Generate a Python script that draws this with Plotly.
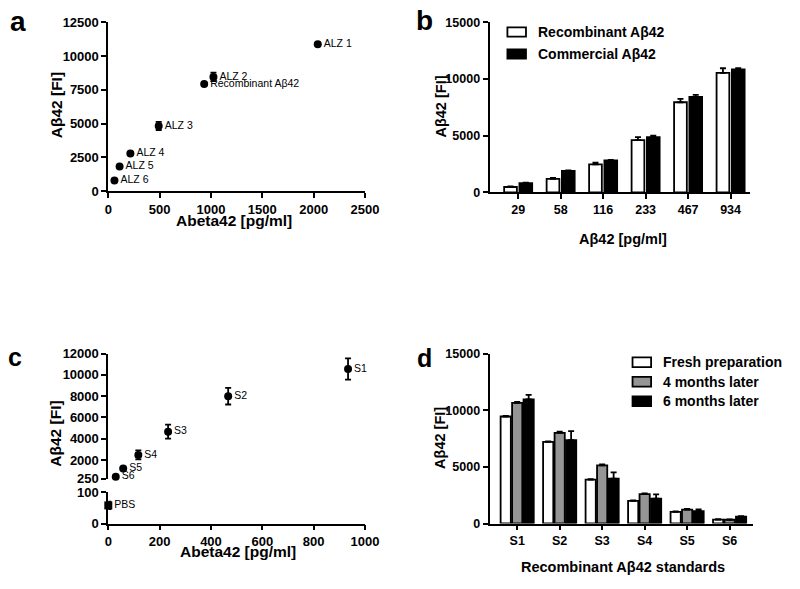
import plotly.graph_objects as go

# ---- data ----
# panel a: patient samples vs ELISA
alz_names = ["ALZ 1", "ALZ 2", "Recombinant Aβ42", "ALZ 3", "ALZ 4", "ALZ 5", "ALZ 6"]
alz_elisa = [2040, 1024, 934, 491, 215, 110, 60]
alz_fi = [10870, 8460, 7930, 4830, 2790, 1830, 800]
alz_err = [80, 320, 60, 300, 60, 50, 50]

# panel b: recombinant vs commercial
conc_labels = ["29", "58", "116", "233", "467", "934"]
recomb_fi = [480, 1200, 2480, 4620, 7950, 10550]
recomb_err = [60, 80, 150, 250, 300, 400]
commercial_fi = [830, 1900, 2820, 4880, 8430, 10850]
commercial_err = [30, 40, 40, 120, 180, 100]

# panel c: standards
std_names = ["S1", "S2", "S3", "S4", "S5", "S6"]
std_conc = [934, 467, 233, 117, 58, 29]
std_fi = [10550, 8000, 4670, 2480, 1200, 430]
std_err = [1000, 780, 650, 420, 60, 60]
pbs_fi = [58]
pbs_err = [12]

# panel d: stability
fresh_fi = [9450, 7200, 3880, 2000, 1020, 350]
fresh_err = [60, 60, 40, 40, 40, 30]
m4_fi = [10650, 8000, 5130, 2600, 1230, 330]
m4_err = [80, 120, 100, 60, 60, 30]
m6_fi = [10950, 7350, 3950, 2200, 1080, 600]
m6_err = [400, 810, 570, 370, 170, 60]

# tick values
a_xticks = [0, 500, 1000, 1500, 2000, 2500]
a_yticks = [0, 2500, 5000, 7500, 10000, 12500]
bar_yticks = [0, 5000, 10000, 15000]
c_xticks = [0, 200, 400, 600, 800, 1000]
c_yticks_top = [250, 2000, 4000, 6000, 8000, 10000, 12000]
c_yticks_low = [0, 100]

W, H = 800, 589
FONT = "Arial, Liberation Sans, sans-serif"
GREY = "#959595"


def px(x):
    return x / W


def py(y):
    return 1 - y / H


def bold(vals):
    return ["<b>%s</b>" % v for v in vals]


def axis(domain, size=13, tickvals=None, **kw):
    d = dict(
        domain=domain, showline=True, linecolor="black", linewidth=1.8,
        ticks="outside", ticklen=5, tickwidth=1.8, tickcolor="black",
        showgrid=False, zeroline=False,
        tickfont=dict(family=FONT, size=size, color="black"),
    )
    if tickvals is not None:
        d.update(tickmode="array", tickvals=tickvals, ticktext=bold(tickvals))
    d.update(kw)
    return d


def err(vals, up_only=False):
    e = dict(type="data", array=vals, color="black", thickness=1.8, width=3)
    if up_only:
        e.update(symmetric=False, arrayminus=[0] * len(vals))
    return e


fig = go.Figure()

# panel a
fig.add_trace(go.Scatter(
    x=alz_elisa, y=alz_fi, text=alz_names, mode="markers+text",
    textposition="middle right", textfont=dict(family=FONT, size=10.5, color="black"),
    marker=dict(color="black", size=8), error_y=err(alz_err),
    cliponaxis=False, xaxis="x", yaxis="y"))

# panel b
fig.add_trace(go.Bar(
    x=conc_labels, y=recomb_fi, width=0.3, offset=-0.33,
    marker=dict(color="white", line=dict(color="black", width=1.8)),
    error_y=err(recomb_err, True), xaxis="x2", yaxis="y2"))
fig.add_trace(go.Bar(
    x=conc_labels, y=commercial_fi, width=0.3, offset=0.03,
    marker=dict(color="black", line=dict(color="black", width=1.8)),
    error_y=err(commercial_err, True), xaxis="x2", yaxis="y2"))

# panel c (broken axis)
fig.add_trace(go.Scatter(
    x=std_conc, y=std_fi, text=std_names, mode="markers+text",
    textposition="middle right", textfont=dict(family=FONT, size=10.5, color="black"),
    marker=dict(color="black", size=8), error_y=err(std_err),
    cliponaxis=False, xaxis="x3", yaxis="y3"))
fig.add_trace(go.Scatter(
    x=[0], y=pbs_fi, text=["PBS"], mode="markers+text",
    textposition="middle right", textfont=dict(family=FONT, size=10.5, color="black"),
    marker=dict(color="black", size=8, symbol="square"), error_y=err(pbs_err),
    cliponaxis=False, xaxis="x3", yaxis="y4"))

# panel d
for vals, errs, col, off in [(fresh_fi, fresh_err, "white", -0.39),
                             (m4_fi, m4_err, GREY, -0.12),
                             (m6_fi, m6_err, "black", 0.15)]:
    fig.add_trace(go.Bar(
        x=std_names, y=vals, width=0.24, offset=off,
        marker=dict(color=col, line=dict(color="black", width=1.8)),
        error_y=err(errs, True), xaxis="x4", yaxis="y5"))

bold_cat = dict(family=FONT, size=12.5, color="black", weight="bold")

fig.update_layout(
    width=W, height=H, margin=dict(l=0, r=0, t=0, b=0),
    paper_bgcolor="white", plot_bgcolor="white", showlegend=False,
    barmode="overlay",
    xaxis=axis([px(106.7), px(369.3)], tickvals=a_xticks, range=[0, 2500], anchor="y"),
    yaxis=axis([py(189), py(15.7)], tickvals=a_yticks, range=[0, 12500], anchor="x"),
    xaxis2=axis([px(496.7), px(762.7)], type="category", range=[-0.674, 5.446],
                tickfont=bold_cat, anchor="y2"),
    yaxis2=axis([py(190.3), py(15.7)], size=12.5, tickvals=bar_yticks, range=[0, 15000], anchor="x2"),
    xaxis3=axis([px(106.7), px(369.3)], tickvals=c_xticks, range=[0, 1000], anchor="y4"),
    yaxis3=axis([py(484), py(355.7)], tickvals=c_yticks_top, range=[250, 12000], anchor="x3"),
    yaxis4=axis([py(530), py(498)], tickvals=c_yticks_low, range=[0, 100], anchor="x3"),
    xaxis4=axis([px(496.7), px(766)], type="category", range=[-0.651, 5.545],
                tickfont=bold_cat, anchor="y5"),
    yaxis5=axis([py(530), py(355.7)], size=12.5, tickvals=bar_yticks, range=[0, 15000], anchor="x4"),
)


# axis titles and panel letters
def label(text, x, y, size, angle=0):
    fig.add_annotation(text="<b>%s</b>" % text, x=px(x), y=py(y), xref="paper", yref="paper",
                       showarrow=False, textangle=angle, xanchor="center", yanchor="middle",
                       font=dict(family=FONT, size=size, color="black"))


label("Aβ42 [FI]", 54, 101, 15.5, -90)
label("Abeta42 [pg/ml]", 235, 219, 15.5)
label("Aβ42 [FI]", 446.7, 102.5, 14.5, -90)
label("Aβ42 [pg/ml]", 633, 238, 14.5)
label("Aβ42 [FI]", 52.5, 437.5, 15.5, -90)
label("Abeta42 [pg/ml]", 239, 559, 15.5)
label("Aβ42 [FI]", 446.7, 442.5, 14.5, -90)
label("Recombinant Aβ42 standards", 633, 575, 14.5)

label("a", 14, 15, 28)
label("b", 430.5, 14, 28)
label("c", 11, 359, 25)
label("d", 430, 360, 25)


# legends drawn as boxes + text
def legend_item(x0, y0, y1, color, text):
    fig.add_shape(type="rect", xref="paper", yref="paper",
                  x0=px(x0), x1=px(x0 + 19), y0=py(y1), y1=py(y0),
                  fillcolor=color, line=dict(color="black", width=1.8))
    fig.add_annotation(text="<b>%s</b>" % text, x=px(x0 + 29), y=py((y0 + y1) / 2),
                       xref="paper", yref="paper", showarrow=False,
                       xanchor="left", yanchor="middle",
                       font=dict(family=FONT, size=14, color="black"))


legend_item(515, 21, 30.5, "white", "Recombinant Aβ42")
legend_item(515, 43.5, 53, "black", "Commercial Aβ42")
legend_item(643, 359.5, 369.5, "white", "Fresh preparation")
legend_item(643, 379.5, 389.5, GREY, "4 months later")
legend_item(643, 399.5, 409.5, "black", "6 months later")

# drop the default page margin so the figure sits at the window's top-left corner
fig.write_html("out.html", config={"displayModeBar": False},
               post_script="document.body.style.margin='0';")
